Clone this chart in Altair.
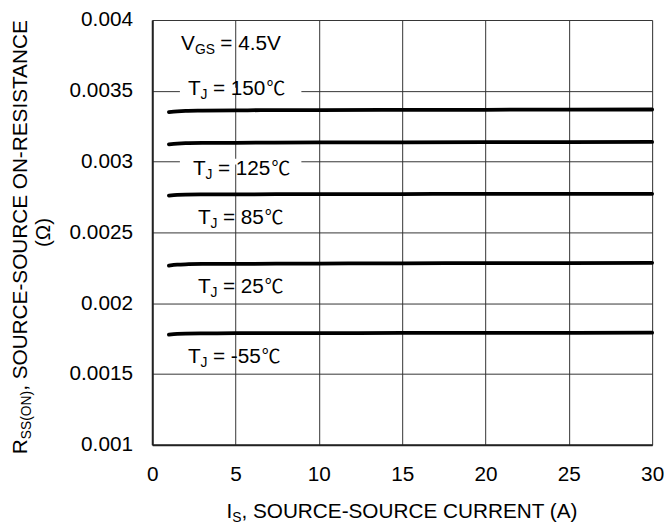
import altair as alt
import pandas as pd

# ---------------- data ----------------
I_S = [1, 1.5, 2, 3, 5, 10, 15, 20, 25, 30]
R_150 = [0.003350, 0.003355, 0.003358, 0.003360, 0.003362, 0.003364, 0.003365, 0.003366, 0.003367, 0.003368]
R_125 = [0.003122, 0.003127, 0.003130, 0.003132, 0.003133, 0.003135, 0.003136, 0.003137, 0.003138, 0.003139]
R_85 = [0.002760, 0.002765, 0.002767, 0.002768, 0.002769, 0.002770, 0.002771, 0.002772, 0.002772, 0.002773]
R_25 = [0.002265, 0.002272, 0.002275, 0.002277, 0.002278, 0.002280, 0.002282, 0.002283, 0.002284, 0.002285]
R_M55 = [0.001778, 0.001784, 0.001786, 0.001787, 0.001788, 0.001789, 0.001790, 0.001791, 0.001791, 0.001792]
SERIES = {"150": R_150, "125": R_125, "85": R_85, "25": R_25, "-55": R_M55}

X_TICKS = [0, 5, 10, 15, 20, 25, 30]
Y_TICKS = [0.001, 0.0015, 0.002, 0.0025, 0.003, 0.0035, 0.004]

# annotation texts: (main, subscript, rest, unit)
ANN_TEXT = [("V", "GS", "= 4.5V", ""),
            ("T", "J", "= 150", "℃"),
            ("T", "J", "= 125", "℃"),
            ("T", "J", "= 85", "℃"),
            ("T", "J", "= 25", "℃"),
            ("T", "J", "= -55", "℃")]
# annotation anchor (start x in A, baseline in ohm)
ANN_X = [1.73, 2.14, 2.44, 2.74, 2.74, 2.14]
ANN_Y = [0.003785, 0.003472, 0.002903, 0.002556, 0.002069, 0.001576]
# gaps cut in the grid behind the 150/125 labels (x from, x to, y)
GAP_X1 = [1.66, 1.66]
GAP_X2 = [8.95, 8.95]
GAP_Y = [0.0035, 0.003]

X_TITLE = ("I", "S", ", SOURCE-SOURCE CURRENT (A)")
Y_TITLE = ("R", "SS(ON)", ", SOURCE-SOURCE ON-RESISTANCE")
Y_TITLE2 = "(Ω)"

# ---------------- layout / style ----------------
W, H = 506, 430
FONT = "Liberation Sans, Arial, sans-serif"
CJK = "Noto Sans CJK SC"
BIG, SMALL, SUBSHIFT = 21, 14, 4
XDOM, YDOM = [0, 30], [0.001, 0.004]
px_x = (XDOM[1] - XDOM[0]) / W
px_y = (YDOM[1] - YDOM[0]) / H
GAPPX = 5.5  # space before "="

ADV = {' ': 278, ',': 278, '(': 333, ')': 333, '-': 333, '=': 584, '.': 278,
       'A': 667, 'C': 722, 'E': 667, 'G': 778, 'I': 278, 'J': 500, 'N': 722,
       'O': 778, 'R': 722, 'S': 667, 'T': 611, 'U': 722, 'V': 667, 'Ω': 768,
       '℃': 1000}


def tw(s, size):
    return sum(ADV.get(c, 556) for c in s) / 1000 * size


xs = alt.Scale(domain=XDOM, nice=False, zero=False)
ys = alt.Scale(domain=YDOM, nice=False, zero=False)
xaxis = alt.Axis(values=X_TICKS, title=None, grid=True, ticks=False,
                 labelPadding=19, labelFontSize=BIG, labelFont=FONT,
                 labelColor="black", domainColor="#222", domainWidth=2,
                 gridColor="#333", gridWidth=1, labelFlush=False)
yaxis = alt.Axis(values=Y_TICKS, title=None, grid=True, ticks=False,
                 format="~g", labelPadding=20, labelFontSize=BIG,
                 labelFont=FONT, labelColor="black", domainColor="#222",
                 domainWidth=2, gridColor="#333", gridWidth=1, labelFlush=False)

rows = []
for k, vals in SERIES.items():
    for i, v in zip(I_S, vals):
        rows.append({"I": i, "R": v, "T": k})
df = pd.DataFrame(rows)

lines = alt.Chart(df).mark_line(color="black", strokeWidth=3.8, strokeCap="round",
                                interpolate="monotone").encode(
    x=alt.X("I:Q", scale=xs, axis=xaxis),
    y=alt.Y("R:Q", scale=ys, axis=yaxis),
    detail="T:N",
)

gap_df = pd.DataFrame({"I": GAP_X1, "x2": GAP_X2,
                       "R": [g - 3 * px_y for g in GAP_Y],
                       "y2": [g + 3 * px_y for g in GAP_Y]})
gaps = alt.Chart(gap_df).mark_rect(color="white").encode(
    x=alt.X("I:Q", scale=xs, axis=xaxis), x2="x2:Q",
    y=alt.Y("R:Q", scale=ys, axis=yaxis), y2="y2:Q")

ann_rows, unit_rows = [], []
for (m, s, r, u), x0, y0 in zip(ANN_TEXT, ANN_X, ANN_Y):
    ann_rows.append({"I": x0, "R": y0, "t": m, "s": BIG})
    ann_rows.append({"I": x0 + tw(m, BIG) * px_x, "R": y0 - SUBSHIFT * px_y,
                     "t": s, "s": SMALL})
    off = tw(m, BIG) + tw(s, SMALL) + GAPPX
    ann_rows.append({"I": x0 + off * px_x, "R": y0, "t": r, "s": BIG})
    if u:
        unit_rows.append({"I": x0 + (off + tw(r, BIG) + 1) * px_x, "R": y0, "t": u})
ann = alt.Chart(pd.DataFrame(ann_rows)).mark_text(
    align="left", baseline="alphabetic", font=FONT, color="black").encode(
    x=alt.X("I:Q", scale=xs, axis=xaxis),
    y=alt.Y("R:Q", scale=ys, axis=yaxis),
    text="t:N",
    size=alt.Size("s:Q", scale=None, legend=None))
units = alt.Chart(pd.DataFrame(unit_rows)).mark_text(
    align="left", baseline="alphabetic", font=CJK, fontSize=19, color="black").encode(
    x=alt.X("I:Q", scale=xs, axis=xaxis),
    y=alt.Y("R:Q", scale=ys, axis=yaxis),
    text="t:N")

dummy = pd.DataFrame({"d": [0]})
title_layers = []

# x title
m, s, r = X_TITLE
tot = tw(m, BIG) + tw(s, SMALL) + tw(r, BIG)
x0 = W / 2 - tot / 2
yb = 504
for txt, size, off, shift in [(m, BIG, 0, 0), (s, SMALL, tw(m, BIG), SUBSHIFT),
                              (r, BIG, tw(m, BIG) + tw(s, SMALL), 0)]:
    title_layers.append(alt.Chart(dummy).mark_text(
        text=txt, fontSize=size, font=FONT, color="black", align="left",
        baseline="alphabetic").encode(x=alt.value(x0 + off), y=alt.value(yb + shift)))

# y title (rotated, reading upward)
m, s, r = Y_TITLE
tot = tw(m, BIG) + tw(s, SMALL) + tw(r, BIG)
ybot = 219 + tot / 2
xb = -127
for txt, size, off, shift in [(m, BIG, 0, 0), (s, SMALL, tw(m, BIG), SUBSHIFT),
                              (r, BIG, tw(m, BIG) + tw(s, SMALL), 0)]:
    title_layers.append(alt.Chart(dummy).mark_text(
        text=txt, fontSize=size, font=FONT, color="black", align="left",
        baseline="alphabetic", angle=270).encode(
        x=alt.value(xb + shift), y=alt.value(ybot - off)))
title_layers.append(alt.Chart(dummy).mark_text(
    text=Y_TITLE2, fontSize=BIG, font=FONT, color="black", align="center",
    baseline="alphabetic", angle=270).encode(x=alt.value(-103.5), y=alt.value(215)))

chart = alt.layer(lines, gaps, ann, units, *title_layers).properties(
    width=W, height=H,
    autosize=alt.AutoSizeParams(type="none"),
    padding={"left": 146, "top": 9, "right": 12, "bottom": 78},
).configure_view(stroke="#8c8c8c", strokeWidth=2).configure(background="white")

chart.save("out.html", embed_options={"renderer": "svg", "actions": False})
